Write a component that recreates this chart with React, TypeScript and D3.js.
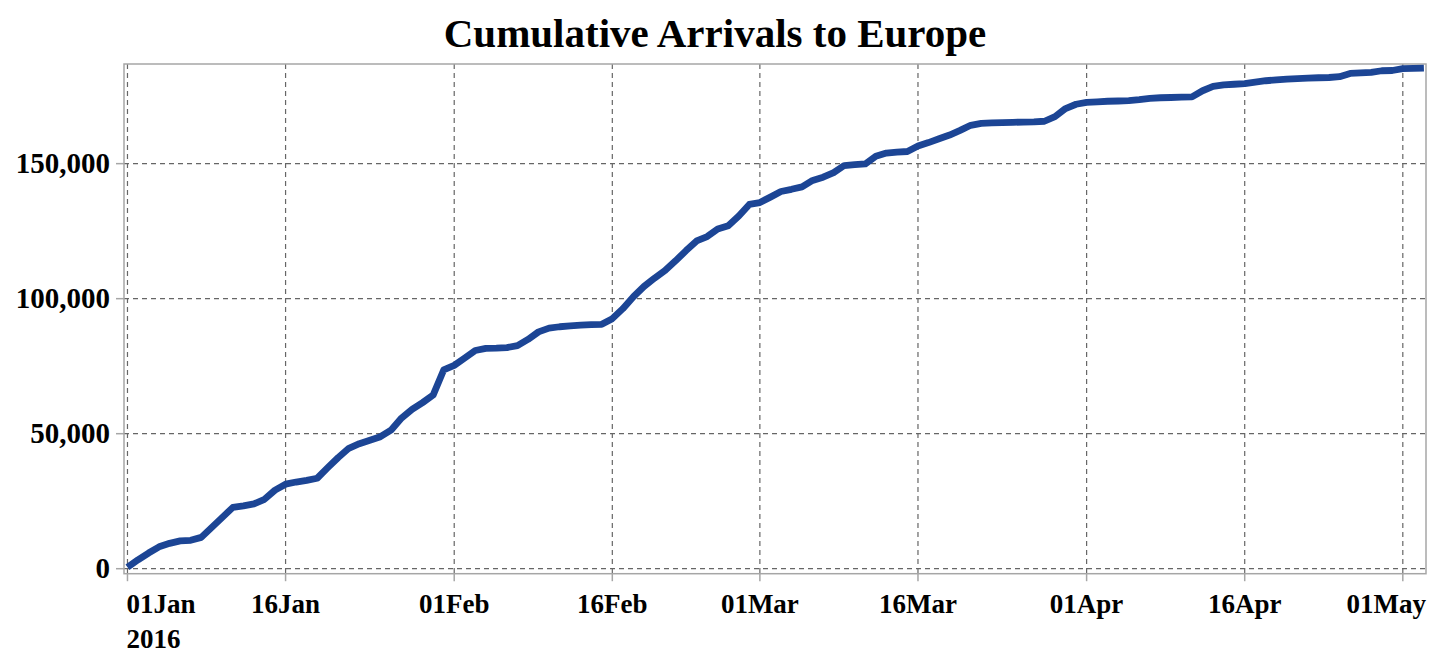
import React, { useEffect } from "react";
import * as d3 from "d3";

const TITLE = "Cumulative Arrivals to Europe";
const START_DATE = "2016-01-01";
const YEAR_LABEL = "2016";

// cumulative arrivals, one value per day starting 01 Jan 2016
const arrivals: number[] = [
  500, 3300, 5800, 8100, 9400, 10300, 10500, 11600, 15300, 19000,
  22700, 23300, 24000, 25700, 29100, 31300, 32100, 32700, 33500, 37400,
  41200, 44600, 46300, 47600, 48900, 51300, 55800, 59000, 61500, 64300,
  73600, 75300, 78000, 80800, 81600, 81700, 81900, 82600, 84900, 87700,
  89100, 89600, 89900, 90200, 90400, 90500, 92600, 96300, 100700, 104500,
  107600, 110400, 114000, 117800, 121400, 123000, 125800, 127000, 130600, 134900,
  135600, 137600, 139700, 140500, 141400, 143800, 145000, 146700, 149300, 149600,
  149900, 152700, 153900, 154300, 154500, 156500, 157800, 159200, 160600, 162300,
  164200, 164900, 165100, 165200, 165300, 165400, 165500, 165700, 167400, 170400,
  172000, 172700, 172900, 173100, 173200, 173300, 173700, 174200, 174400, 174500,
  174600, 174700, 177000, 178600, 179200, 179400, 179600, 180200, 180700, 181000,
  181300, 181500, 181700, 181800, 181900, 182200, 183400, 183600, 183800, 184400,
  184500, 185200, 185300, 185400,
];

const xTickDates: string[] = [
  "2016-01-01", "2016-01-16", "2016-02-01", "2016-02-16", "2016-03-01",
  "2016-03-16", "2016-04-01", "2016-04-16", "2016-05-01",
];
const yTickValues: number[] = [0, 50000, 100000, 150000];

const W = 1429;
const H = 655;
const LEFT = 124;
const RIGHT = 1426;
const TOP = 64;
const BOTTOM = 573.7;
const DAY = 86400000;

const FONT = "'Liberation Serif', 'Times New Roman', serif";
const LINE_COLOR = "#1c4595";
const GRID_COLOR = "#666";
const FRAME_COLOR = "#a6a6a6";

export default function App() {
  useEffect(() => {
    document.body.style.margin = "0";
  }, []);

  const start = new Date(START_DATE + "T00:00:00Z");
  const data = arrivals.map((v, i) => ({ date: new Date(start.getTime() + i * DAY), value: v }));

  const x = d3
    .scaleUtc()
    .domain([new Date(start.getTime() - 0.33 * DAY), new Date(start.getTime() + 123.2 * DAY)])
    .range([LEFT, RIGHT]);
  const y = d3.scaleLinear().domain([-1850, 186900]).range([BOTTOM, TOP]);

  const line = d3
    .line<{ date: Date; value: number }>()
    .x((d) => x(d.date))
    .y((d) => y(d.value));

  const fmt = d3.utcFormat("%d%b");
  const yFmt = d3.format(",");
  const ticks = xTickDates.map((s) => new Date(s + "T00:00:00Z"));

  return (
    <svg width={W} height={H} style={{ display: "block", position: "absolute", left: 0, top: 0 }}>
      <rect x={0} y={0} width={W} height={H} fill="#fff" />
      <text
        x={715}
        y={47}
        textAnchor="middle"
        fontFamily={FONT}
        fontWeight="bold"
        fontSize={41}
        fill="#000"
      >
        {TITLE}
      </text>

      {/* horizontal grid */}
      {yTickValues.map((v) => (
        <g key={"y" + v}>
          <line x1={LEFT} x2={RIGHT} y1={y(v)} y2={y(v)} stroke={GRID_COLOR} strokeWidth={1.2} strokeDasharray="5,4" />
          <line x1={LEFT - 8} x2={LEFT} y1={y(v)} y2={y(v)} stroke={FRAME_COLOR} strokeWidth={1.5} />
          <text
            x={110}
            y={y(v) + 9.6}
            textAnchor="end"
            fontFamily={FONT}
            fontWeight="bold"
            fontSize={29}
            fill="#000"
          >
            {yFmt(v)}
          </text>
        </g>
      ))}

      {/* vertical grid + ticks */}
      {ticks.map((t, i) => {
        const px = x(t);
        const anchor = i === 0 ? "start" : i === ticks.length - 1 ? "end" : "middle";
        const lx = i === 0 ? px - 1 : i === ticks.length - 1 ? RIGHT : px;
        return (
          <g key={"x" + i}>
            <line x1={px} x2={px} y1={TOP} y2={BOTTOM} stroke={GRID_COLOR} strokeWidth={1.2} strokeDasharray="5,4" />
            <line x1={px} x2={px} y1={BOTTOM} y2={BOTTOM + 7.5} stroke={FRAME_COLOR} strokeWidth={1.5} />
            <text
              x={lx}
              y={613}
              textAnchor={anchor}
              fontFamily={FONT}
              fontWeight="bold"
              fontSize={27}
              fill="#000"
            >
              {fmt(t)}
            </text>
          </g>
        );
      })}
      <text x={x(ticks[0]) - 1} y={648} textAnchor="start" fontFamily={FONT} fontWeight="bold" fontSize={27} fill="#000">
        {YEAR_LABEL}
      </text>

      {/* frame */}
      <rect x={LEFT} y={TOP} width={RIGHT - LEFT} height={BOTTOM - TOP} fill="none" stroke={FRAME_COLOR} strokeWidth={1.5} />

      <path
        d={line(data) ?? ""}
        fill="none"
        stroke={LINE_COLOR}
        strokeWidth={6.8}
        strokeLinejoin="round"
        strokeLinecap="butt"
      />
    </svg>
  );
}
